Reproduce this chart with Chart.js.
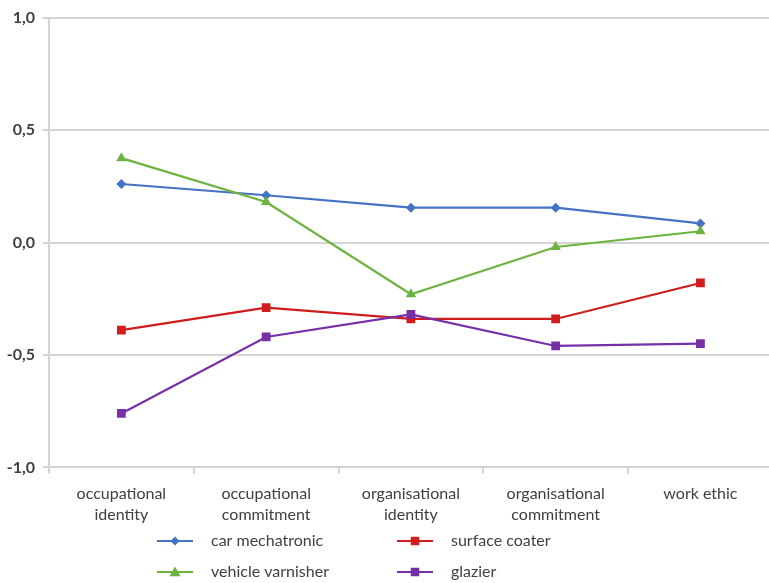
<!DOCTYPE html>
<html>
<head>
<meta charset="utf-8">
<script src="https://cdn.jsdelivr.net/npm/chart.js@4.4.1/dist/chart.umd.min.js"></script>
<style>
  html, body { margin: 0; padding: 0; background: #fff; overflow: hidden; }
  #wrap { width: 779px; height: 583px; position: relative; }
</style>
</head>
<body>
<div id="wrap"><canvas id="c"></canvas></div>
<script>
// Categories (x axis) and series values
const categories = [
  ["occupational", "identity"],
  ["occupational", "commitment"],
  ["organisational", "identity"],
  ["organisational", "commitment"],
  "work ethic"
];
const carMechatronic   = [0.26, 0.21, 0.155, 0.155, 0.085];
const surfaceCoater    = [-0.39, -0.29, -0.34, -0.34, -0.18];
const vehicleVarnisher = [0.375, 0.18, -0.23, -0.02, 0.05];
const glazier          = [-0.76, -0.42, -0.32, -0.46, -0.45];
const yTicks = [-1.0, -0.5, 0.0, 0.5, 1.0];

const FONT = "Lato, 'Open Sans', sans-serif";
const TEXT = "#404040";
const GRID = "#d4d4d4";

const series = [
  { label: "car mechatronic",   data: carMechatronic,   color: "#4472C4", marker: "diamond",  order: 3 },
  { label: "surface coater",    data: surfaceCoater,    color: "#D01C1C", marker: "square",   order: 2 },
  { label: "vehicle varnisher", data: vehicleVarnisher, color: "#6DB33F", marker: "triangle", order: 1 },
  { label: "glazier",           data: glazier,          color: "#7530A8", marker: "square",   order: 0 }
];

const chartStyle = { diamond: "rectRot", square: "rect", triangle: "triangle" };
const chartRadius = { diamond: 5, square: 6.2, triangle: 6 };

// Legend drawn as two aligned columns below the axis labels
function drawMarker(ctx, type, x, y, color) {
  ctx.fillStyle = color;
  ctx.beginPath();
  if (type === "diamond") {
    const r = 4.5;
    ctx.moveTo(x, y - r); ctx.lineTo(x + r, y); ctx.lineTo(x, y + r); ctx.lineTo(x - r, y);
  } else if (type === "triangle") {
    const r = 5.5;
    ctx.moveTo(x, y - r); ctx.lineTo(x + r, y + r * 0.75); ctx.lineTo(x - r, y + r * 0.75);
  } else {
    const s = 8.5;
    ctx.rect(x - s / 2, y - s / 2, s, s);
  }
  ctx.closePath();
  ctx.fill();
}

const legendPlugin = {
  id: "gridLegend",
  afterDraw(chart) {
    const ctx = chart.ctx;
    const colX = [157, 397];
    const rowY = [541, 572];
    ctx.save();
    chart.data.datasets.forEach((ds, i) => {
      const s = series[i];
      const x = colX[i % 2];
      const y = rowY[Math.floor(i / 2)];
      ctx.strokeStyle = s.color;
      ctx.lineWidth = 2.2;
      ctx.beginPath();
      ctx.moveTo(x, y);
      ctx.lineTo(x + 36, y);
      ctx.stroke();
      drawMarker(ctx, s.marker, x + 18, y, s.color);
      ctx.fillStyle = TEXT;
      ctx.font = "16px " + FONT;
      ctx.textBaseline = "middle";
      ctx.textAlign = "left";
      ctx.fillText(s.label, x + 54, y);
    });
    ctx.restore();
  }
};

new Chart(document.getElementById("c"), {
  type: "line",
  data: {
    labels: categories,
    datasets: series.map(s => ({
      label: s.label,
      data: s.data,
      borderColor: s.color,
      backgroundColor: s.color,
      borderWidth: 2.2,
      pointStyle: chartStyle[s.marker],
      pointRadius: chartRadius[s.marker],
      pointBorderWidth: 0,
      pointBackgroundColor: s.color,
      tension: 0,
      order: s.order
    }))
  },
  options: {
    responsive: true,
    maintainAspectRatio: false,
    animation: false,
    layout: { padding: { left: 4, right: 0, top: 10, bottom: 48 } },
    plugins: {
      legend: { display: false },
      tooltip: { enabled: false }
    },
    scales: {
      x: {
        offset: true,
        border: { display: true, color: GRID, width: 2 },
        grid: { display: true, offset: true, drawOnChartArea: false, drawTicks: true, tickLength: 6, color: GRID, lineWidth: 2 },
        ticks: {
          color: TEXT,
          font: { family: FONT, size: 16, lineHeight: 1.3 },
          padding: 10,
          maxRotation: 0,
          autoSkip: false
        }
      },
      y: {
        min: -1, max: 1,
        afterBuildTicks(scale) { scale.ticks = yTicks.map(v => ({ value: v })); },
        afterFit(scale) { scale.width = 45; },
        border: { display: true, color: GRID, width: 2 },
        grid: { color: GRID, lineWidth: 2, tickLength: 6 },
        ticks: {
          color: TEXT,
          font: { family: FONT, size: 16, weight: "bold" },
          padding: 8,
          callback: v => Number(v).toFixed(1).replace(".", ",")
        }
      }
    }
  },
  plugins: [legendPlugin]
});
</script>
</body>
</html>
